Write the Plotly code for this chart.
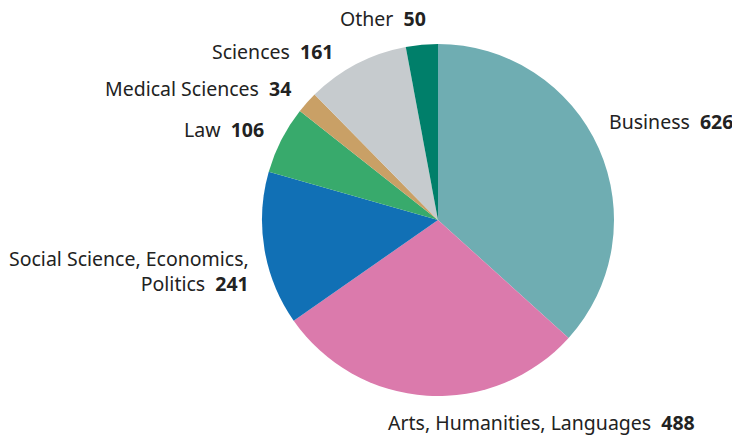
import plotly.graph_objects as go

# Student counts by subject area
subjects = ["Business", "Arts, Humanities, Languages", "Social Science, Economics,<br>Politics",
            "Law", "Medical Sciences", "Sciences", "Other"]
counts = [626, 488, 241, 106, 34, 161, 50]
colors = ["#6FADB2", "#DB7AAC", "#1170B5", "#38AA6C", "#C9A066", "#C6CBCE", "#007F6A"]

W, H = 732, 441
cx, cy, r = 438, 220, 176

# label anchor points in pixels (x, y, horizontal anchor)
label_pos = [
    (607, 122, "left"),
    (386, 422, "left"),
    (251, 271, "right"),
    (266, 129, "right"),
    (293, 89, "right"),
    (335, 51, "right"),
    (428, 19, "right"),
]

fig = go.Figure(go.Pie(
    labels=[s.replace("<br>", " ") for s in subjects],
    values=counts,
    sort=False,
    direction="clockwise",
    rotation=0,
    marker=dict(colors=colors, line=dict(width=0)),
    textinfo="none",
    hoverinfo="label+value",
    domain=dict(x=[(cx - r) / W, (cx + r) / W], y=[(H - cy - r) / H, (H - cy + r) / H]),
))

for name, val, (px, py, anchor) in zip(subjects, counts, label_pos):
    fig.add_annotation(
        x=px / W, y=1 - py / H, xref="paper", yref="paper",
        text=f"{name}\u00a0\u00a0<b>{val}</b>",
        showarrow=False, xanchor=anchor, yanchor="middle", align="right" if anchor == "right" else "left",
        font=dict(family="Noto Sans", size=19.5, color="#222222"),
    )

fig.update_layout(
    width=W, height=H,
    margin=dict(l=0, r=0, t=0, b=0),
    showlegend=False,
    paper_bgcolor="white",
    plot_bgcolor="white",
)

fig.write_html("out.html")
